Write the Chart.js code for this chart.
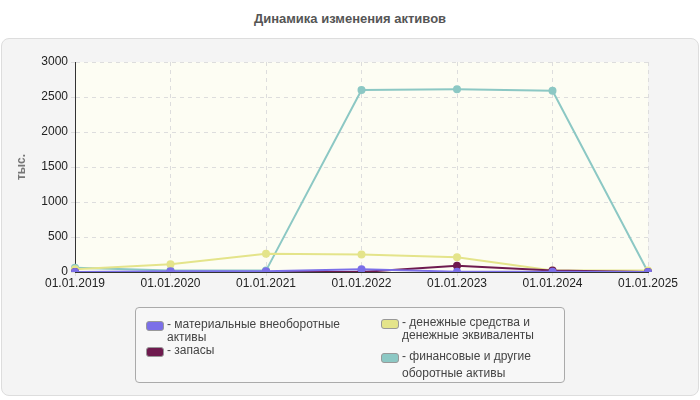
<!DOCTYPE html>
<html>
<head>
<meta charset="utf-8">
<script src="https://cdn.jsdelivr.net/npm/chart.js@4"></script>
<style>
body { margin: 0; width: 700px; height: 400px; background: #fff; font-family: "Liberation Sans", Arial, sans-serif; position: relative; overflow: hidden; }
#title { position: absolute; top: 11px; left: 0; width: 700px; text-align: center; font-weight: bold; font-size: 13px; color: #555; }
#panel { position: absolute; top: 38px; left: 1px; width: 696px; height: 356px; background: #f4f4f4; border: 1px solid #ddd; border-radius: 8px; }
#chart { position: absolute; top: 0; left: 0; }
#legend { position: absolute; left: 135px; top: 307px; width: 428px; height: 74px; border: 1px solid #aaa; border-radius: 4px; background: #f7f7f7; font-size: 12px; color: #444; }
.item { position: absolute; display: flex; line-height: 13px; }
.sw { width: 16px; height: 8px; border: 1px solid #999; border-radius: 3px; margin: 3px 3px 0 0; flex: none; }
</style>
</head>
<body>
<div id="title">Динамика изменения активов</div>
<div id="panel"></div>
<canvas id="chart" width="700" height="400"></canvas>
<div id="legend">
  <div class="item" style="left:10px;top:10px"><span class="sw" style="background:#7b6fe8"></span><span>- материальные внеоборотные<br>активы</span></div>
  <div class="item" style="left:10px;top:36px"><span class="sw" style="background:#6e1a4e"></span><span>- запасы</span></div>
  <div class="item" style="left:245px;top:8px"><span class="sw" style="background:#e4e48a"></span><span>- денежные средства и<br>денежные эквиваленты</span></div>
  <div class="item" style="left:245px;top:40px;line-height:17px"><span class="sw" style="background:#8cc8c4;margin-top:5px"></span><span>- финансовые и другие<br>оборотные активы</span></div>
</div>
<script>
const labels = ["01.01.2019", "01.01.2020", "01.01.2021", "01.01.2022", "01.01.2023", "01.01.2024", "01.01.2025"];
const tangible = [0, 10, 10, 40, 5, 5, 0];
const stocks = [0, 0, 0, 0, 90, 20, 0];
const cash = [40, 110, 260, 250, 210, 20, 20];
const financial = [60, 20, 20, 2600, 2610, 2590, 0];

const bgPlugin = {
    id: "bg",
    beforeDraw(chart) {
        const { ctx, chartArea: { left, right, top, bottom } } = chart;
        ctx.save();
        ctx.fillStyle = "#fdfdf3";
        ctx.fillRect(left, top, right - left, bottom - top);
        ctx.restore();
    }
};

function ds(label, data, color) {
    return { label, data, borderColor: color, backgroundColor: color, borderWidth: 2, pointRadius: 3, pointStyle: "circle", tension: 0 };
}

new Chart(document.getElementById("chart"), {
    type: "line",
    data: {
        labels,
        datasets: [
            ds("материальные внеоборотные активы", tangible, "#7b6fe8"),
            ds("запасы", stocks, "#6e1a4e"),
            ds("денежные средства и денежные эквиваленты", cash, "#e4e48a"),
            ds("финансовые и другие оборотные активы", financial, "#8cc8c4")
        ]
    },
    options: {
        responsive: false,
        animation: false,
        layout: { padding: { left: 10, right: 52, top: 62, bottom: 108 } },
        plugins: { legend: { display: false }, tooltip: { enabled: false } },
        scales: {
            x: {
                afterFit(a) { a.height = 20; },
                grid: { color: "#ddd", tickLength: 4, drawTicks: true },
                border: { color: "#333", dash: [4, 4] },
                ticks: { color: "#222", font: { size: 12, family: "Liberation Sans" }, maxRotation: 0, padding: 0 }
            },
            y: {
                min: 0, max: 3000,
                afterFit(a) { a.width = 65; },
                grid: { color: "#ddd", tickLength: 4 },
                border: { color: "#333", dash: [4, 4] },
                ticks: { stepSize: 500, color: "#222", font: { size: 12, family: "Liberation Sans" }, callback: v => String(v) },
                title: { display: true, text: "тыс.", color: "#777", font: { size: 12, weight: "bold", family: "Liberation Sans" } }
            }
        }
    },
    plugins: [bgPlugin]
});
</script>
</body>
</html>
